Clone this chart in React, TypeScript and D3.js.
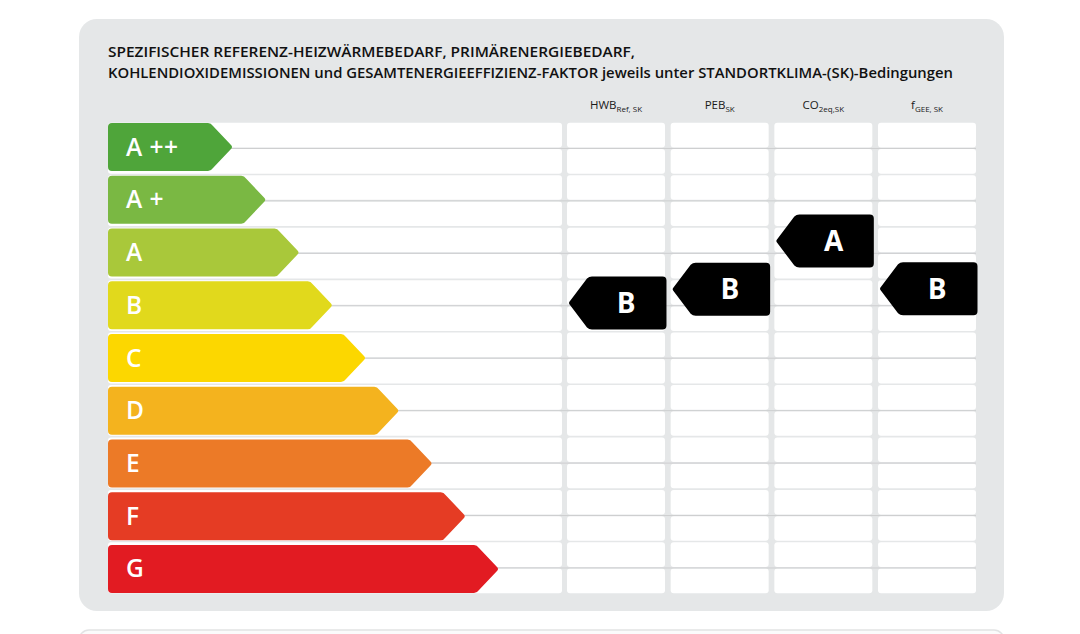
import React from "react";
import * as d3 from "d3";

const classes = ["A++", "A+", "A", "B", "C", "D", "E", "F", "G"];
const classLabels = ["A ++", "A +", "A", "B", "C", "D", "E", "F", "G"];
const classColors = ["#4fa53a", "#7ab843", "#a9c83a", "#e1d91c", "#fcd700", "#f4b31e", "#ec7a27", "#e53c24", "#e21b22"];

const columns = ["HWB", "PEB", "CO2", "fGEE"];
const columnMain = ["HWB", "PEB", "CO", "f"];
const columnSub = ["Ref, SK", "SK", "2eq,SK", "GEE, SK"];

// rating per indicator and its position on the scale (in class units, 0 = top of A++)
const ratings = ["B", "B", "A", "B"];
const ratingPositions = [3.45, 3.19, 2.27, 3.18];

const titleLines = [
  "SPEZIFISCHER REFERENZ-HEIZWÄRMEBEDARF, PRIMÄRENERGIEBEDARF,",
  "KOHLENDIOXIDEMISSIONEN und GESAMTENERGIEEFFIZIENZ-FAKTOR jeweils unter STANDORTKLIMA-(SK)-Bedingungen",
];

const W = 1080;
const H = 634;

export default function App() {
  const top = 122;
  const bottom = 594;
  const yBand = d3.scaleBand<string>().domain(classes).range([top, bottom]).paddingInner(0.09).paddingOuter(0.02);
  const yPos = d3.scaleLinear().domain([0, classes.length]).range([top, bottom]);
  const tipX = d3.scaleLinear().domain([0, classes.length - 1]).range([232, 498]);
  const colX = d3.scaleBand<string>().domain(columns).range([567, 976]).paddingInner(0.055).paddingOuter(0);
  const halfRows = d3.range(classes.length * 2);
  const halfH = (bottom - top) / (classes.length * 2);

  const arrowPath = (y0: number, h: number, tip: number) => {
    const x0 = 108;
    const r = 4;
    const body = tip - 22;
    const p = d3.path();
    p.moveTo(x0 + r, y0);
    p.lineTo(body - 2, y0);
    p.quadraticCurveTo(body + 1, y0, body + 3, y0 + 3);
    p.lineTo(tip - 1, y0 + h / 2 - 2);
    p.quadraticCurveTo(tip + 1, y0 + h / 2, tip - 1, y0 + h / 2 + 2);
    p.lineTo(body + 3, y0 + h - 3);
    p.quadraticCurveTo(body + 1, y0 + h, body - 2, y0 + h);
    p.lineTo(x0 + r, y0 + h);
    p.quadraticCurveTo(x0, y0 + h, x0, y0 + h - r);
    p.lineTo(x0, y0 + r);
    p.quadraticCurveTo(x0, y0, x0 + r, y0);
    p.closePath();
    return p.toString();
  };

  const markerPath = (x0: number, x1: number, cy: number, h: number) => {
    const r = 4;
    const body = x0 + 21;
    const y0 = cy - h / 2;
    const p = d3.path();
    p.moveTo(body + 2, y0);
    p.lineTo(x1 - r, y0);
    p.quadraticCurveTo(x1, y0, x1, y0 + r);
    p.lineTo(x1, y0 + h - r);
    p.quadraticCurveTo(x1, y0 + h, x1 - r, y0 + h);
    p.lineTo(body + 2, y0 + h);
    p.quadraticCurveTo(body - 1, y0 + h, body - 3, y0 + h - 2);
    p.lineTo(x0 + 1, cy + 2);
    p.quadraticCurveTo(x0 - 1, cy, x0 + 1, cy - 2);
    p.lineTo(body - 3, y0 + 2);
    p.quadraticCurveTo(body - 1, y0, body + 2, y0);
    p.closePath();
    return p.toString();
  };

  const font = "'Open Sans', 'DejaVu Sans', sans-serif";

  return (
    <svg width={W} height={H} style={{ position: "absolute", left: 0, top: 0, background: "#ffffff" }}>
      {/* main panel */}
      <rect x={79} y={19} width={925} height={592} rx={18} fill="#e5e7e8" />
      {/* next panel peeking at bottom */}
      <rect x={79} y={630} width={925} height={40} rx={10} fill="#fbfbfb" stroke="#e2e3e4" strokeWidth={1.5} />

      {/* title */}
      {titleLines.map((t, i) => (
        <text
          key={i}
          x={108}
          y={57 + i * 21}
          fontFamily={font}
          fontWeight={600}
          fontSize={13.4}
          fill="#111111"
          textLength={i === 0 ? 527 : 845}
          lengthAdjust="spacingAndGlyphs"
        >
          {t}
        </text>
      ))}

      {/* column headers */}
      {columns.map((c, i) => {
        const cx = (colX(c) as number) + colX.bandwidth() / 2;
        return (
          <text key={c} x={cx} y={109} textAnchor="middle" fontFamily={font} fontSize={11.5} fill="#1a1a1a">
            {columnMain[i]}
            <tspan fontSize={8} dy={3}>
              {columnSub[i]}
            </tspan>
          </text>
        );
      })}

      {/* grid cells */}
      {halfRows.map((r) => {
        const y = top + r * halfH;
        return (
          <g key={r}>
            <rect x={108} y={y + 0.8} width={454} height={halfH - 1.6} rx={3} fill="#ffffff" />
            {columns.map((c) => (
              <rect key={c} x={colX(c) as number} y={y + 0.8} width={colX.bandwidth()} height={halfH - 1.6} rx={3} fill="#ffffff" />
            ))}
            {r % 2 === 1 && (
              <line x1={200} x2={976} y1={y + 0.2} y2={y + 0.2} stroke="#c9cbcc" strokeWidth={0.9} />
            )}
          </g>
        );
      })}

      {/* class arrows */}
      {classes.map((c, i) => {
        const y0 = yBand(c) as number;
        const h = yBand.bandwidth();
        return (
          <g key={c}>
            <path d={arrowPath(y0, h, tipX(i))} fill={classColors[i]} />
            <text x={126} y={y0 + h / 2 + 8.5} fontFamily={font} fontWeight={600} fontSize={24.5} fill="#ffffff" letterSpacing={0.5}>
              {classLabels[i]}
            </text>
          </g>
        );
      })}

      {/* rating markers */}
      {columns.map((c, i) => {
        const x0 = (colX(c) as number) + 2;
        const x1 = (colX(c) as number) + colX.bandwidth() + 1.5;
        const cy = yPos(ratingPositions[i]);
        return (
          <g key={c}>
            <path d={markerPath(x0, x1, cy, 53)} fill="#000000" />
            <text
              x={(x0 + 21 + x1) / 2 - 2}
              y={cy + 10}
              textAnchor="middle"
              fontFamily={font}
              fontWeight={700}
              fontSize={28}
              fill="#ffffff"
            >
              {ratings[i]}
            </text>
          </g>
        );
      })}
    </svg>
  );
}
